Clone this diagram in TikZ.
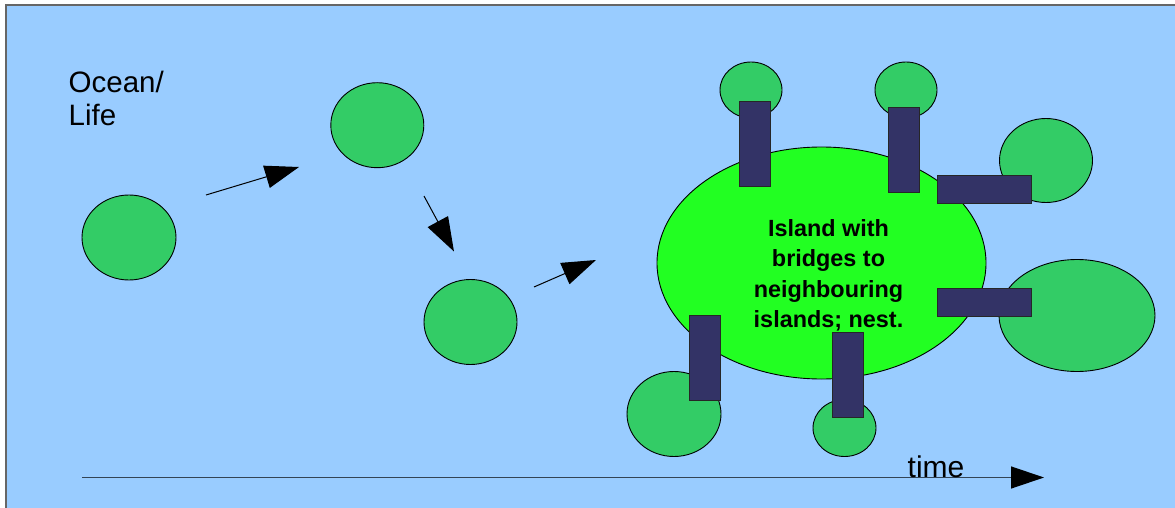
\documentclass[tikz,border=0pt]{standalone}
\usepackage{fontspec}
\setmainfont{Liberation Sans}
\usetikzlibrary{shapes.geometric,arrows.meta}
\definecolor{oceancolor}{RGB}{153,204,255}
\definecolor{islecolor}{RGB}{51,204,102}
\definecolor{nestcolor}{RGB}{34,255,34}
\definecolor{bridgecolor}{RGB}{51,51,102}
\definecolor{framecolor}{RGB}{102,102,102}
\definecolor{axiscolor}{RGB}{51,68,85}

\begin{document}
\begin{tikzpicture}[x=1pt,y=-1pt,
island/.style 2 args={
  ellipse,
  draw=black,
  line width=0.9pt,
  fill=islecolor,
  inner sep=0pt,
  minimum width=#1pt,
  minimum height=#2pt},
bridge/.style 2 args={
  rectangle,
  draw=black!85,
  line width=0.9pt,
  fill=bridgecolor,
  inner sep=0pt,
  minimum width=#1pt,
  minimum height=#2pt},
drift/.style={
  draw=black,
  line width=1pt,
  -{Triangle[length=34pt,width=23pt]}},
]
\useasboundingbox (0,0) rectangle (1175,508);
% ocean
\fill[oceancolor] (6,5) rectangle (1175,508);
\draw[framecolor,line width=2pt] (6,508) -- (6,5) -- (1175,5);

\node[anchor=west,inner sep=0pt,align=left,font=\fontsize{29.5}{33.5}\selectfont] (OCEAN) at (68.5,98.5) {Ocean/\\Life};

% drifting islands
\node[island={94}{85}] (ISA) at (129,237.5) {};
\node[island={93}{85}] (ISB) at (377.3,125.2) {};
\node[island={93}{85}] (ISC) at (470.5,322) {};

\coordinate (A1) at (206,195);  \coordinate (A2) at (299,167);
\coordinate (B1) at (424,196);  \coordinate (B2) at (454,251.5);
\coordinate (C1) at (534,287);  \coordinate (C2) at (596,260);
\draw[drift] (A1) -- (A2);
\draw[drift] (B1) -- (B2);
\draw[drift] (C1) -- (C2);

% neighbours
\node[island={62}{56}] (NTL) at (751,90) {};
\node[island={62}{56}] (NTM) at (906,90) {};
\node[island={93}{84}] (NRU) at (1046,160.5) {};
\node[island={156}{112}] (NRL) at (1077,315.5) {};
\node[island={94}{85}] (NBL) at (674,414) {};
\node[island={63}{57}] (NBM) at (844.5,428) {};

% nest
\node[island={329}{232},fill=nestcolor] (NEST) at (821.5,263) {};
\node[align=center,inner sep=0pt,font=\fontsize{23.4}{30.3}\selectfont\bfseries] (NESTTXT) at (828.5,275.3)
  {Island with\\bridges to\\neighbouring\\islands; nest.};

% bridges
\node[bridge={31}{85}] (BR1) at (754.5,143.5) {};
\node[bridge={31}{85}] (BR2) at (903.5,149.5) {};
\node[bridge={94}{28}] (BR3) at (984,189) {};
\node[bridge={94}{28}] (BR4) at (984,302) {};
\node[bridge={31}{85}] (BR5) at (705,358) {};
\node[bridge={31}{85}] (BR6) at (848,374.5) {};

% time axis
\coordinate (T1) at (82,477.5);
\coordinate (T2) at (1044,477.5);
\draw[draw=axiscolor,line width=1.3pt,-{Triangle[length=33pt,width=22pt,color=black]}] (T1) -- (T2);
\node[anchor=base west,inner sep=0pt,font=\fontsize{30}{34}\selectfont] (TIME) at (907.5,477) {time};
\end{tikzpicture}
\end{document}
